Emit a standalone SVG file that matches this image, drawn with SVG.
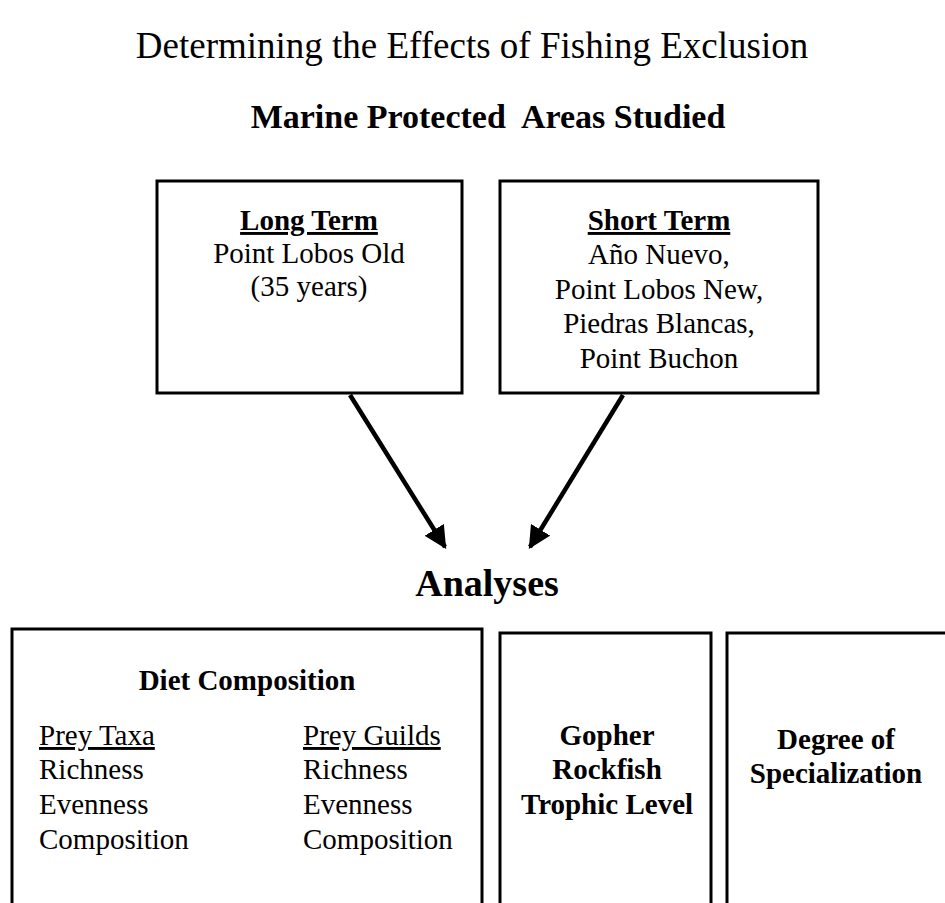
<svg xmlns="http://www.w3.org/2000/svg" width="945" height="903" viewBox="0 0 945 903">
<defs>
<style>
.t{font-family:"Liberation Serif","Times New Roman",serif;fill:#000}
.b{font-weight:bold}
.c{text-anchor:middle}
.u{text-decoration:underline}
.box{fill:#fff;stroke:#000;stroke-width:3}
.arr{stroke:#000;stroke-width:4.5;fill:none}
</style>
<marker id="ah" viewBox="0 0 10 10" refX="9" refY="5" markerWidth="5" markerHeight="5" markerUnits="strokeWidth" orient="auto">
<path d="M0,0 L10,5 L0,10 z" fill="#000"/>
</marker>
</defs>
<rect width="945" height="903" fill="#fff"/>
<text class="t c" x="472" y="58" font-size="37">Determining the Effects of Fishing Exclusion</text>
<text class="t b c" x="488" y="128" font-size="34" xml:space="preserve">Marine Protected  Areas Studied</text>
<g id="long-term">
<rect class="box" x="157" y="181" width="305" height="212"/>
<text class="t b c u" x="309" y="230" font-size="29">Long Term</text>
<text class="t c" x="309" y="263" font-size="29">Point Lobos Old</text>
<text class="t c" x="309" y="296" font-size="29">(35 years)</text>
</g>
<g id="short-term">
<rect class="box" x="500" y="181" width="318" height="212"/>
<text class="t b c u" x="659" y="230" font-size="29">Short Term</text>
<text class="t c" x="659" y="264" font-size="29">Año Nuevo,</text>
<text class="t c" x="659" y="299" font-size="29">Point Lobos New,</text>
<text class="t c" x="659" y="333" font-size="29">Piedras Blancas,</text>
<text class="t c" x="659" y="368" font-size="29">Point Buchon</text>
</g>
<g id="connectors">
<line class="arr" x1="350" y1="395" x2="445" y2="547" marker-end="url(#ah)"/>
<line class="arr" x1="623" y1="395" x2="530" y2="547" marker-end="url(#ah)"/>
</g>
<text class="t b c" x="487" y="596" font-size="38">Analyses</text>
<g id="diet">
<rect class="box" x="12" y="629" width="470" height="290"/>
<text class="t b c" x="247" y="690" font-size="29">Diet Composition</text>
<text class="t u" x="39" y="745" font-size="29">Prey Taxa</text>
<text class="t" x="39" y="779" font-size="29">Richness</text>
<text class="t" x="39" y="814" font-size="29">Evenness</text>
<text class="t" x="39" y="849" font-size="29">Composition</text>
<text class="t u" x="303" y="745" font-size="29">Prey Guilds</text>
<text class="t" x="303" y="779" font-size="29">Richness</text>
<text class="t" x="303" y="814" font-size="29">Evenness</text>
<text class="t" x="303" y="849" font-size="29">Composition</text>
</g>
<g id="trophic">
<rect class="box" x="500" y="633" width="211" height="290"/>
<text class="t b c" x="607" y="745" font-size="29">Gopher</text>
<text class="t b c" x="607" y="779" font-size="29">Rockfish</text>
<text class="t b c" x="607" y="814" font-size="29">Trophic Level</text>
</g>
<g id="specialization">
<rect class="box" x="727" y="633" width="240" height="290"/>
<text class="t b c" x="836" y="749" font-size="29">Degree of</text>
<text class="t b c" x="836" y="783" font-size="29">Specialization</text>
</g>
</svg>
